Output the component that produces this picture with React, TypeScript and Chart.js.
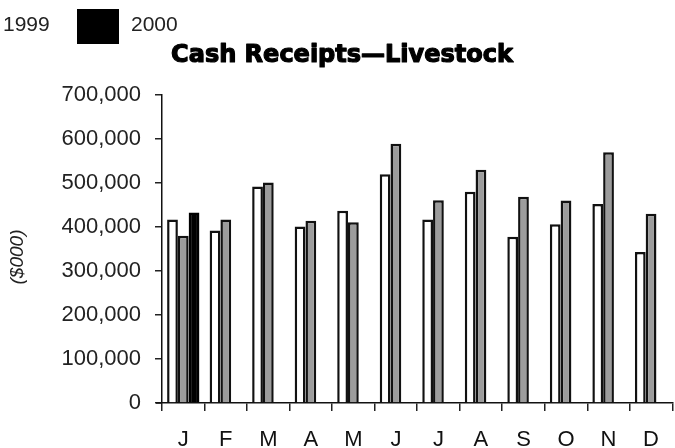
import React, { useEffect, useRef } from 'react';
import { Chart, registerables } from 'chart.js';

Chart.register(...registerables);

const months = ['J', 'F', 'M', 'A', 'M', 'J', 'J', 'A', 'S', 'O', 'N', 'D'];
const receipts1999 = [417000, 392000, 492000, 401000, 437000, 520000, 417000, 480000, 378000, 406000, 452000, 343000];
const receipts2000 = [380000, 417000, 501000, 414000, 411000, 589000, 461000, 530000, 469000, 460000, 570000, 430000];
const receipts2000Dark = [433000, null, null, null, null, null, null, null, null, null, null, null];
const yTicks = [0, 100000, 200000, 300000, 400000, 500000, 600000, 700000];
const titleText = 'Cash Receipts\u2014Livestock';
const yAxisTitle = '($000)';
const legendLabels = ['1999', '2000'];

const SANS = '"Liberation Sans", Arial, Helvetica, sans-serif';

const overlayPlugin = {
  id: 'overlayText',
  afterDraw(chart: any) {
    const ctx = chart.ctx as CanvasRenderingContext2D;
    const area = chart.chartArea;
    ctx.save();
    // small extension of the x-axis line to the left of the y-axis
    ctx.strokeStyle = '#111';
    ctx.lineWidth = 1.5;
    ctx.beginPath();
    ctx.moveTo(area.left - 6, area.bottom);
    ctx.lineTo(area.left, area.bottom);
    ctx.stroke();
    // title
    ctx.fillStyle = '#000';
    ctx.strokeStyle = '#000';
    ctx.lineWidth = 1.2;
    ctx.lineJoin = 'round';
    ctx.font = 'bold 24px "DejaVu Sans", sans-serif';
    ctx.textAlign = 'center';
    ctx.textBaseline = 'alphabetic';
    ctx.fillText(titleText, 342, 62);
    ctx.strokeText(titleText, 342, 62);
    // legend
    ctx.font = '21px ' + SANS;
    ctx.textAlign = 'left';
    ctx.fillStyle = '#222';
    ctx.fillText(legendLabels[0], 3, 31);
    ctx.fillStyle = '#000';
    ctx.fillRect(77, 9, 42, 35);
    ctx.fillStyle = '#222';
    ctx.fillText(legendLabels[1], 131, 31);
    // y-axis title
    ctx.translate(18, 257);
    ctx.rotate(-Math.PI / 2);
    ctx.font = 'italic 19px ' + SANS;
    ctx.textAlign = 'center';
    ctx.textBaseline = 'middle';
    ctx.fillText(yAxisTitle, 0, 0);
    ctx.restore();
  },
};

export default function App() {
  const ref = useRef<HTMLCanvasElement | null>(null);

  useEffect(() => {
    if (!ref.current) return;
    const chart = new Chart(ref.current, {
      type: 'bar',
      data: {
        labels: months,
        datasets: [
          {
            label: '1999',
            data: receipts1999,
            backgroundColor: '#ffffff',
            borderColor: '#111111',
            borderWidth: 2.5,
          },
          {
            label: '2000',
            data: receipts2000,
            backgroundColor: '#9c9c9c',
            borderColor: '#111111',
            borderWidth: 2.5,
          },
          {
            label: '2000 ',
            data: receipts2000Dark,
            backgroundColor: '#000000',
            borderColor: '#000000',
            borderWidth: 2.5,
          },
        ],
      },
      options: {
        animation: false,
        responsive: true,
        maintainAspectRatio: false,
        categoryPercentage: 0.76,
        barPercentage: 1.0,
        layout: { padding: { top: 95, left: 0, right: 0, bottom: 0 } },
        plugins: {
          legend: { display: false },
          title: { display: false },
          tooltip: { enabled: false },
        },
        scales: {
          x: {
            type: 'category',
            grid: {
              display: true,
              drawOnChartArea: false,
              drawTicks: true,
              tickLength: 8,
              color: '#222',
              lineWidth: 1.5,
            },
            border: { display: true, color: '#111', width: 1.5 },
            ticks: {
              font: { size: 22, family: SANS },
              color: '#111',
              padding: 16,
              maxRotation: 0,
              autoSkip: false,
            },
            afterFit: (s: any) => {
              s.height = 45;
            },
          },
          y: {
            min: 0,
            max: 700000,
            afterBuildTicks: (s: any) => {
              s.ticks = yTicks.map((v) => ({ value: v }));
            },
            grid: {
              display: true,
              drawOnChartArea: false,
              drawTicks: true,
              tickLength: 7,
              color: '#222',
              lineWidth: 1.5,
            },
            border: { display: true, color: '#111', width: 1.5 },
            ticks: {
              font: { size: 22, family: SANS },
              color: '#222',
              padding: 14,
              callback: (v: any) => Number(v).toLocaleString('en-US'),
            },
            title: { display: false },
            afterFit: (s: any) => {
              s.width = 162;
            },
          },
        },
      },
      plugins: [overlayPlugin],
    });
    return () => chart.destroy();
  }, []);

  return (
    <div style={{ position: 'absolute', left: 0, top: 0, width: 675, height: 448 }}>
      <canvas ref={ref} />
    </div>
  );
}
